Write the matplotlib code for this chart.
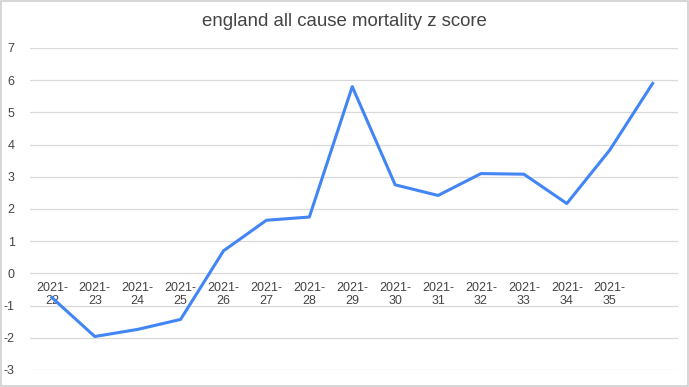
import numpy as np
import matplotlib.pyplot as plt
from matplotlib.patches import Rectangle

# weekly z scores
weeks = ['2021-\n22', '2021-\n23', '2021-\n24', '2021-\n25', '2021-\n26', '2021-\n27',
         '2021-\n28', '2021-\n29', '2021-\n30', '2021-\n31', '2021-\n32', '2021-\n33',
         '2021-\n34', '2021-\n35', '']
zscore = [-0.75, -1.96, -1.74, -1.43, 0.7, 1.65, 1.75, 5.8, 2.75, 2.42, 3.1, 3.08,
          2.17, 3.83, 5.9]

plt.rcParams['font.family'] = ['Liberation Sans', 'DejaVu Sans']
plt.rcParams['axes.unicode_minus'] = False

fig = plt.figure(figsize=(6.89, 3.87), dpi=100)
ax = fig.add_axes([0.0435, 0.044, 0.9405, 0.832])

x = np.arange(len(zscore))
ax.plot(x, zscore, color='#4285f4', lw=2.2, solid_joinstyle='round', zorder=3)

ax.set_xlim(-0.51, 14.59)
ax.set_ylim(-3, 7)
ax.set_yticks(range(-3, 8))
ax.set_xticks(x)
ax.set_xticklabels(weeks)

# x labels sit on the zero line like in sheets
ax.spines['bottom'].set_position(('data', 0))
for s in ax.spines.values():
    s.set_visible(False)
ax.tick_params(axis='both', length=0, labelsize=9, labelcolor='#444444')
ax.tick_params(axis='x', pad=6)
ax.tick_params(axis='y', pad=11)
for lab in ax.get_xticklabels():
    lab.set_linespacing(1.1)
ax.grid(axis='y', color='#d9d9d9', lw=0.9)
ax.set_axisbelow(True)

fig.text(0.5, 0.945, 'england all cause mortality z score', ha='center', va='center',
         fontsize=13.4, color='#444444')

# light frame round the whole chart
fig.patches.append(Rectangle((0.001, 0.002), 0.997, 0.995, transform=fig.transFigure,
                             fill=False, edgecolor='#d0d0d0', lw=1.2))

fig.savefig('out.png', dpi=100)
